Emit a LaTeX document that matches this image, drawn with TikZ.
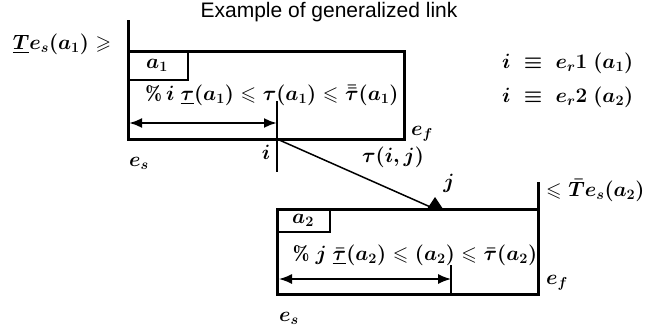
\documentclass[tikz,border=0pt]{standalone}
\usepackage{amssymb}
\usepackage{fontspec}
\newfontfamily\titlefont{Liberation Sans}
\usetikzlibrary{arrows.meta}
\begin{document}
\begin{tikzpicture}[x=1pt,y=-1pt,
  lbl/.style={inner sep=0pt, font=\fontsize{20}{24}\selectfont\boldmath},
  boxline/.style={line width=3pt},
  tagline/.style={line width=2.4pt},
  rule/.style={line width=1.5pt},
  span/.style={{Latex[length=13pt,width=10pt]}-{Latex[length=13pt,width=10pt]}},
]
\useasboundingbox (0,0) rectangle (652,333);
% title
\node[inner sep=0pt, font=\titlefont\fontsize{21}{24}\selectfont] (title) at (329,12) {Example of generalized link};

% ---------- box 1 ----------
\coordinate (b1top) at (128,20);
\coordinate (b1bl) at (128,139);
\coordinate (b1br) at (404,139);
\coordinate (b1tr) at (404,51);
\coordinate (b1tl) at (128,51);
\draw[boxline] (b1top) -- (b1bl) -- (b1br) -- (b1tr) -- (b1tl);
\draw[tagline] (128,80) -- (188,80) -- (188,51);
\node[lbl] (a1) at (157,65) {$a_1$};
\coordinate (i) at (277,139);
\coordinate (itop) at (277,101);
\coordinate (ibot) at (277,172);
\draw[rule] (itop) -- (ibot);
\coordinate (s1l) at (129,123);
\coordinate (s1r) at (277,123);
\draw[span, line width=2.4pt] (s1l) -- (s1r);
\node[lbl] (f1) at (272,95) {$\%\,i\ \underline{\tau}(a_1)\leqslant\tau(a_1)\leqslant\bar{\bar{\tau}}(a_1)$};
\node[lbl] (es1) at (139,163) {$e_s$};
\node[lbl] (il) at (266,152) {$i$};
\node[lbl] (ef1) at (422,134) {$e_f$};
\node[lbl] (tij) at (393,157) {$\tau(i,j)$};
\node[lbl] (tl) at (62,44) {$\underline{T}e_s(a_1)\geqslant$};

% ---------- right formulas ----------
\node[lbl, anchor=west] (r1) at (502,63) {$i\;\equiv\;e_r{}1\ (a_1)$};
\node[lbl, anchor=west] (r2) at (502,97) {$i\;\equiv\;e_r{}2\ (a_2)$};

% ---------- box 2 ----------
\coordinate (b2tl) at (277,209);
\coordinate (b2bl) at (277,294);
\coordinate (b2br) at (538,294);
\coordinate (b2up) at (538,182);
\draw[boxline] (b2up) -- (b2br) -- (b2bl) -- (b2tl) -- (538,209);
\draw[tagline] (277,232) -- (330,232) -- (330,209);
\node[lbl] (a2) at (303,220) {$a_2$};
\coordinate (j) at (435,209);
\coordinate (ptop) at (451,265);
\coordinate (pbot) at (451,294);
\draw[rule] (ptop) -- (pbot);
\coordinate (s2l) at (279,279);
\coordinate (s2r) at (451,279);
\draw[span, line width=1.5pt] (s2l) -- (s2r);
\node[lbl] (f2) at (415,255) {$\%\ j\ \underline{\bar{\tau}}(a_2)\leqslant(a_2)\leqslant\bar{\tau}(a_2)$};
\node[lbl] (es2) at (289,318) {$e_s$};
\node[lbl] (ef2) at (557,283) {$e_f$};
\node[lbl] (jl) at (449,183) {$j$};
\node[lbl, anchor=west] (tr) at (546,190) {$\leqslant\bar{T}e_s(a_2)$};

% ---------- link ----------
\draw[rule] (i) -- (j);
\fill (j) ++(-8,0) -- ++(16,0) -- ++(-8,-12) -- cycle;
\end{tikzpicture}
\end{document}
